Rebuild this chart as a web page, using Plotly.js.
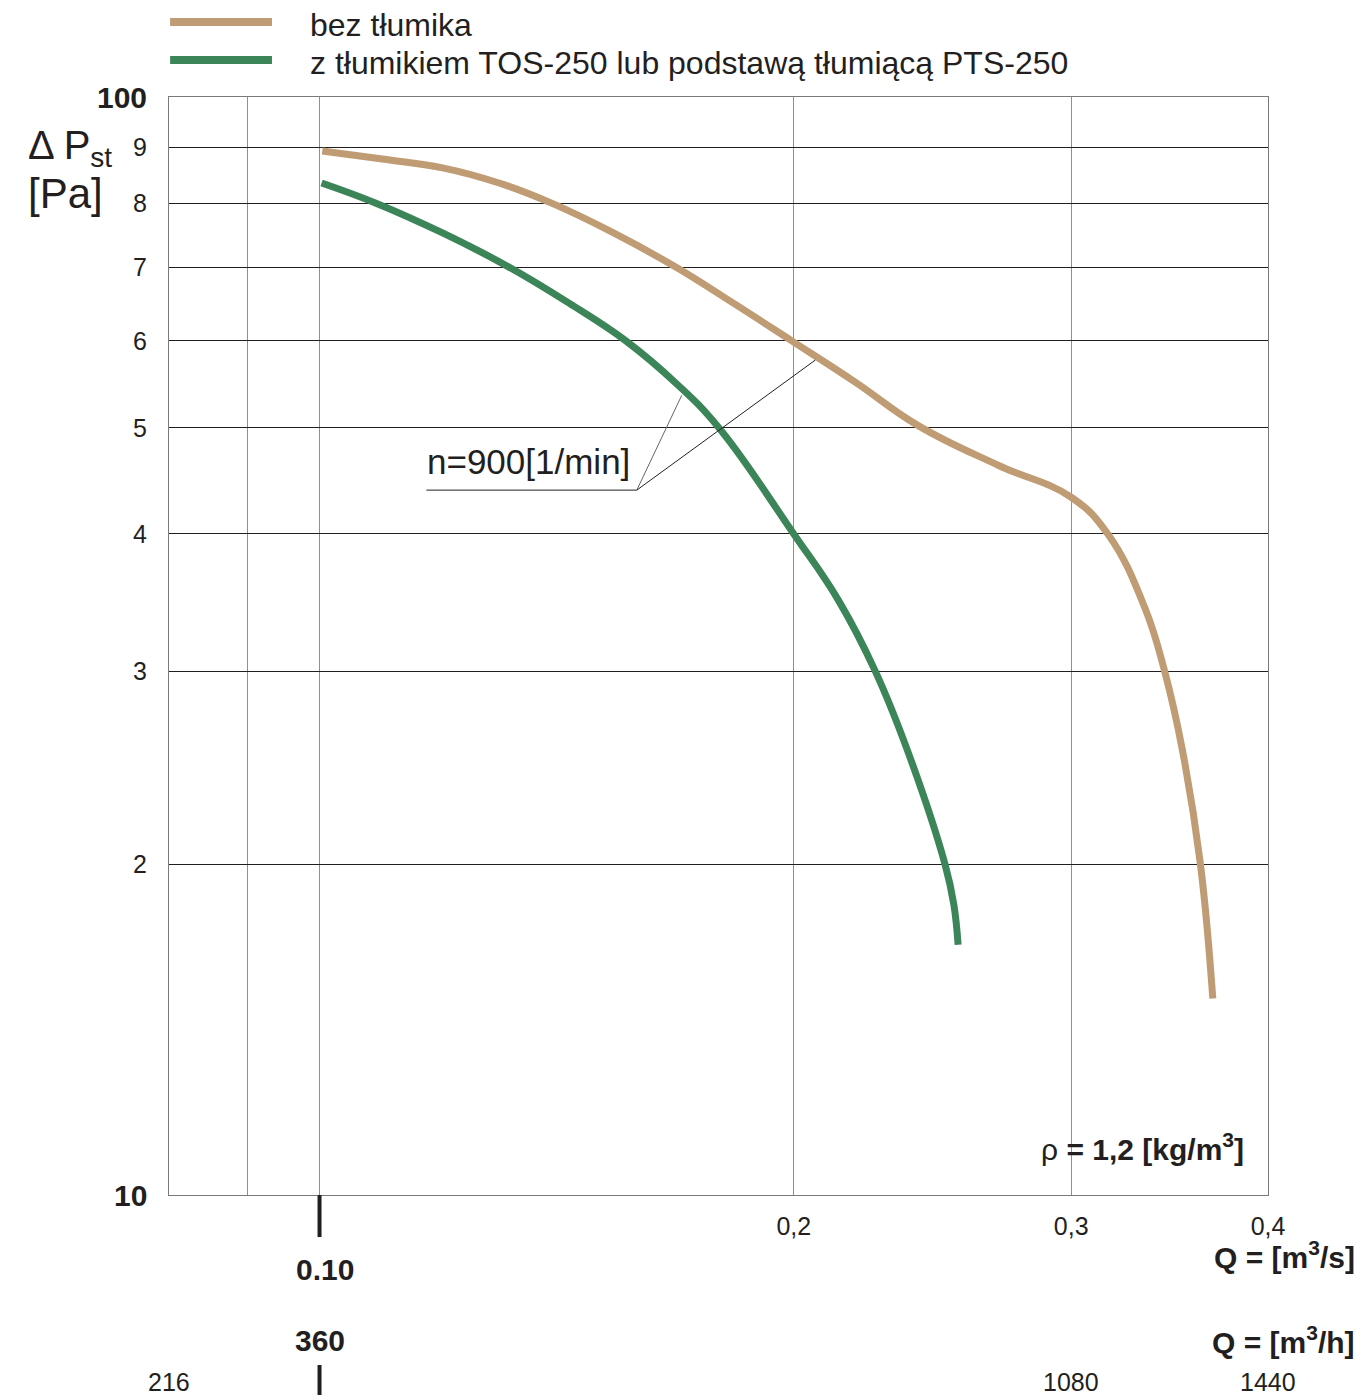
<!DOCTYPE html>
<html>
<head>
<meta charset="utf-8">
<script src="https://cdn.plot.ly/plotly-3.0.1.min.js"></script>
<style>html,body{margin:0;padding:0;background:#fff;}#chart{width:1361px;height:1395px;}</style>
</head>
<body>
<div id="chart"></div>
<script>
// Series: Q [m3/s] vs ΔPst [Pa]
const bezQ  = [0.1004, 0.1096, 0.1197, 0.1300, 0.1405, 0.1537, 0.1683, 0.1831, 0.1993, 0.2188, 0.2399, 0.2696, 0.300, 0.3165, 0.3340, 0.3439, 0.3530, 0.3624, 0.3690];
const bezP  = [89.3, 87.8, 86.2, 83.5, 80.0, 75.2, 70.0, 64.9, 60.0, 55.0, 50.2, 46.2, 43.2, 40.0, 34.3, 30.0, 25.4, 20.0, 15.1];
const tosQ  = [0.1003, 0.1087, 0.1197, 0.1319, 0.1440, 0.1564, 0.1683, 0.1792, 0.200, 0.2135, 0.2253, 0.2364, 0.2495, 0.2527, 0.2543];
const tosP  = [83.5, 80.0, 75.2, 70.0, 64.9, 60.0, 54.9, 50.0, 40.0, 34.8, 30.0, 25.3, 20.0, 18.4, 16.9];

const seriesNames = ["bez tłumika", "z tłumikiem TOS-250 lub podstawą tłumiącą PTS-250"];
const seriesColors = ["#C09C74", "#3C8558"];

const xTickVals = [0.2, 0.3, 0.4];
const xTickText = ["0,2", "0,3", "0,4"];
const xMinorGrid = [0.09, 0.1];
const yTickVals = [10, 20, 30, 40, 50, 60, 70, 80, 90, 100];
const yTickText = ["10", "2", "3", "4", "5", "6", "7", "8", "9", "100"];
const yTickBold = [true, false, false, false, false, false, false, false, false, true];

const flowHLabels = [216, 360, 1080, 1440];     // Q [m3/h]
const flowHBold   = [false, true, false, false];

const xMin = 0.08025, xMax = 0.4;
const txt = "#231f20";
const FONT = "Liberation Sans, Arial, sans-serif";

const traces = [
  {x: bezQ, y: bezP, name: seriesNames[0], mode: "lines", line: {color: seriesColors[0], width: 7, shape: "spline", smoothing: 1.2}, showlegend: false, hoverinfo: "skip"},
  {x: tosQ, y: tosP, name: seriesNames[1], mode: "lines", line: {color: seriesColors[1], width: 7, shape: "spline", smoothing: 1.2}, showlegend: false, hoverinfo: "skip"}
];

const annotations = [];
const shapes = [];

// legend (drawn manually)
const legY = [1.0683, 1.0337];
seriesNames.forEach((n, i) => {
  shapes.push({type: "line", xref: "paper", yref: "paper", x0: 0.001, x1: 0.0937, y0: legY[i], y1: legY[i], line: {color: seriesColors[i], width: 8}});
  annotations.push({xref: "paper", yref: "paper", x: 0.1265, y: legY[i] - 0.003, xanchor: "left", yanchor: "middle", text: n, showarrow: false, font: {family: FONT, size: 32, color: txt}});
});

// y axis title
annotations.push({xref: "paper", yref: "paper", x: -0.130, y: 0.954, xanchor: "left", yanchor: "middle", text: "Δ P<sub>st</sub>", showarrow: false, font: {family: FONT, size: 40, color: txt}});
annotations.push({xref: "paper", yref: "paper", x: -0.130, y: 0.912, xanchor: "left", yanchor: "middle", text: "[Pa]", showarrow: false, font: {family: FONT, size: 42, color: txt}});

// 0.10 bold label and units
annotations.push({xref: "x", yref: "paper", x: Math.log10(0.1), xshift: 5, y: -0.0683, xanchor: "center", yanchor: "middle", text: "<b>0.10</b>", showarrow: false, font: {family: FONT, size: 30, color: txt}});
annotations.push({xref: "paper", yref: "paper", x: 1.0810, y: -0.0546, xanchor: "right", yanchor: "middle", text: "<b>Q = [m<sup>3</sup>/s]</b>", showarrow: false, font: {family: FONT, size: 30, color: txt}});
annotations.push({xref: "paper", yref: "paper", x: 1.0810, y: -0.1321, xanchor: "right", yanchor: "middle", text: "<b>Q = [m<sup>3</sup>/h]</b>", showarrow: false, font: {family: FONT, size: 30, color: txt}});

// m3/h scale
flowHLabels.forEach((q, i) => {
  const xs = Math.max(q / 3600, xMin);
  annotations.push({xref: "x", yref: "paper", x: Math.log10(xs), y: flowHBold[i] ? -0.1321 : -0.1700, xanchor: "center", yanchor: "middle",
    text: flowHBold[i] ? "<b>" + q + "</b>" : String(q), showarrow: false, font: {family: FONT, size: flowHBold[i] ? 30 : 25, color: txt}});
});

// y tick labels (sizes differ: bold decades larger)
yTickVals.forEach((v, i) => {
  annotations.push({xref: "paper", yref: "y", x: 0, xshift: -20, y: Math.log10(v), xanchor: "right", yanchor: "middle",
    text: yTickBold[i] ? "<b>" + yTickText[i] + "</b>" : yTickText[i], showarrow: false,
    font: {family: FONT, size: yTickBold[i] ? 30 : 25, color: txt}});
});

// density
annotations.push({xref: "paper", yref: "paper", x: 0.980, y: 0.0437, xanchor: "right", yanchor: "middle", text: "ρ <b>= 1,2 [kg/m<sup>3</sup>]</b>", showarrow: false, font: {family: FONT, size: 30, color: txt}});

// n=900 label
annotations.push({xref: "x", yref: "y", x: Math.log10(0.1166), y: Math.log10(46.6), xanchor: "left", yanchor: "middle", text: "n=900[1/min]", showarrow: false, font: {family: FONT, size: 35, color: txt}});
shapes.push({type: "line", xref: "x", yref: "y", x0: 0.1169, x1: 0.159, y0: 43.85, y1: 43.85, line: {color: txt, width: 1}});
shapes.push({type: "line", xref: "x", yref: "y", x0: 0.159, x1: 0.1698, y0: 43.85, y1: 53.5, line: {color: "#666", width: 1}});
shapes.push({type: "line", xref: "x", yref: "y", x0: 0.159, x1: 0.2064, y0: 43.85, y1: 57.6, line: {color: txt, width: 1}});

// thick ticks at 0.10
shapes.push({type: "line", xref: "x", yref: "paper", x0: 0.1, x1: 0.1, y0: 0, y1: -0.0383, line: {color: txt, width: 4}});
shapes.push({type: "line", xref: "x", yref: "paper", x0: 0.1, x1: 0.1, y0: -0.1548, y1: -0.1830, line: {color: txt, width: 4}});

const layout = {
  width: 1361, height: 1395,
  margin: {l: 169, r: 93, t: 97, b: 200, pad: 0},
  paper_bgcolor: "#fff", plot_bgcolor: "#fff",
  font: {family: FONT, color: txt},
  showlegend: false,
  xaxis: {
    type: "log", range: [Math.log10(xMin), Math.log10(xMax)],
    tickmode: "array", tickvals: xTickVals, ticktext: xTickText,
    showgrid: true, gridcolor: "#8f8f8f", gridwidth: 1.3,
    minor: {tickmode: "array", tickvals: xMinorGrid, showgrid: true, gridcolor: "#8f8f8f", gridwidth: 1.3, ticks: ""},
    showline: true, linecolor: "#7a7a7a", linewidth: 1.3, mirror: true,
    ticks: "outside", ticklen: 9, tickcolor: "rgba(0,0,0,0)",
    tickfont: {family: FONT, size: 25, color: txt}, zeroline: false, fixedrange: true
  },
  yaxis: {
    type: "log", range: [1, 2],
    tickmode: "array", tickvals: yTickVals, showticklabels: false,
    showgrid: true, gridcolor: "#231f20", gridwidth: 1,
    showline: true, linecolor: "#7a7a7a", linewidth: 1.3, mirror: true,
    ticks: "", zeroline: false, fixedrange: true
  },
  annotations: annotations,
  shapes: shapes
};

Plotly.newPlot("chart", traces, layout, {displayModeBar: false, staticPlot: true});
</script>
</body>
</html>
